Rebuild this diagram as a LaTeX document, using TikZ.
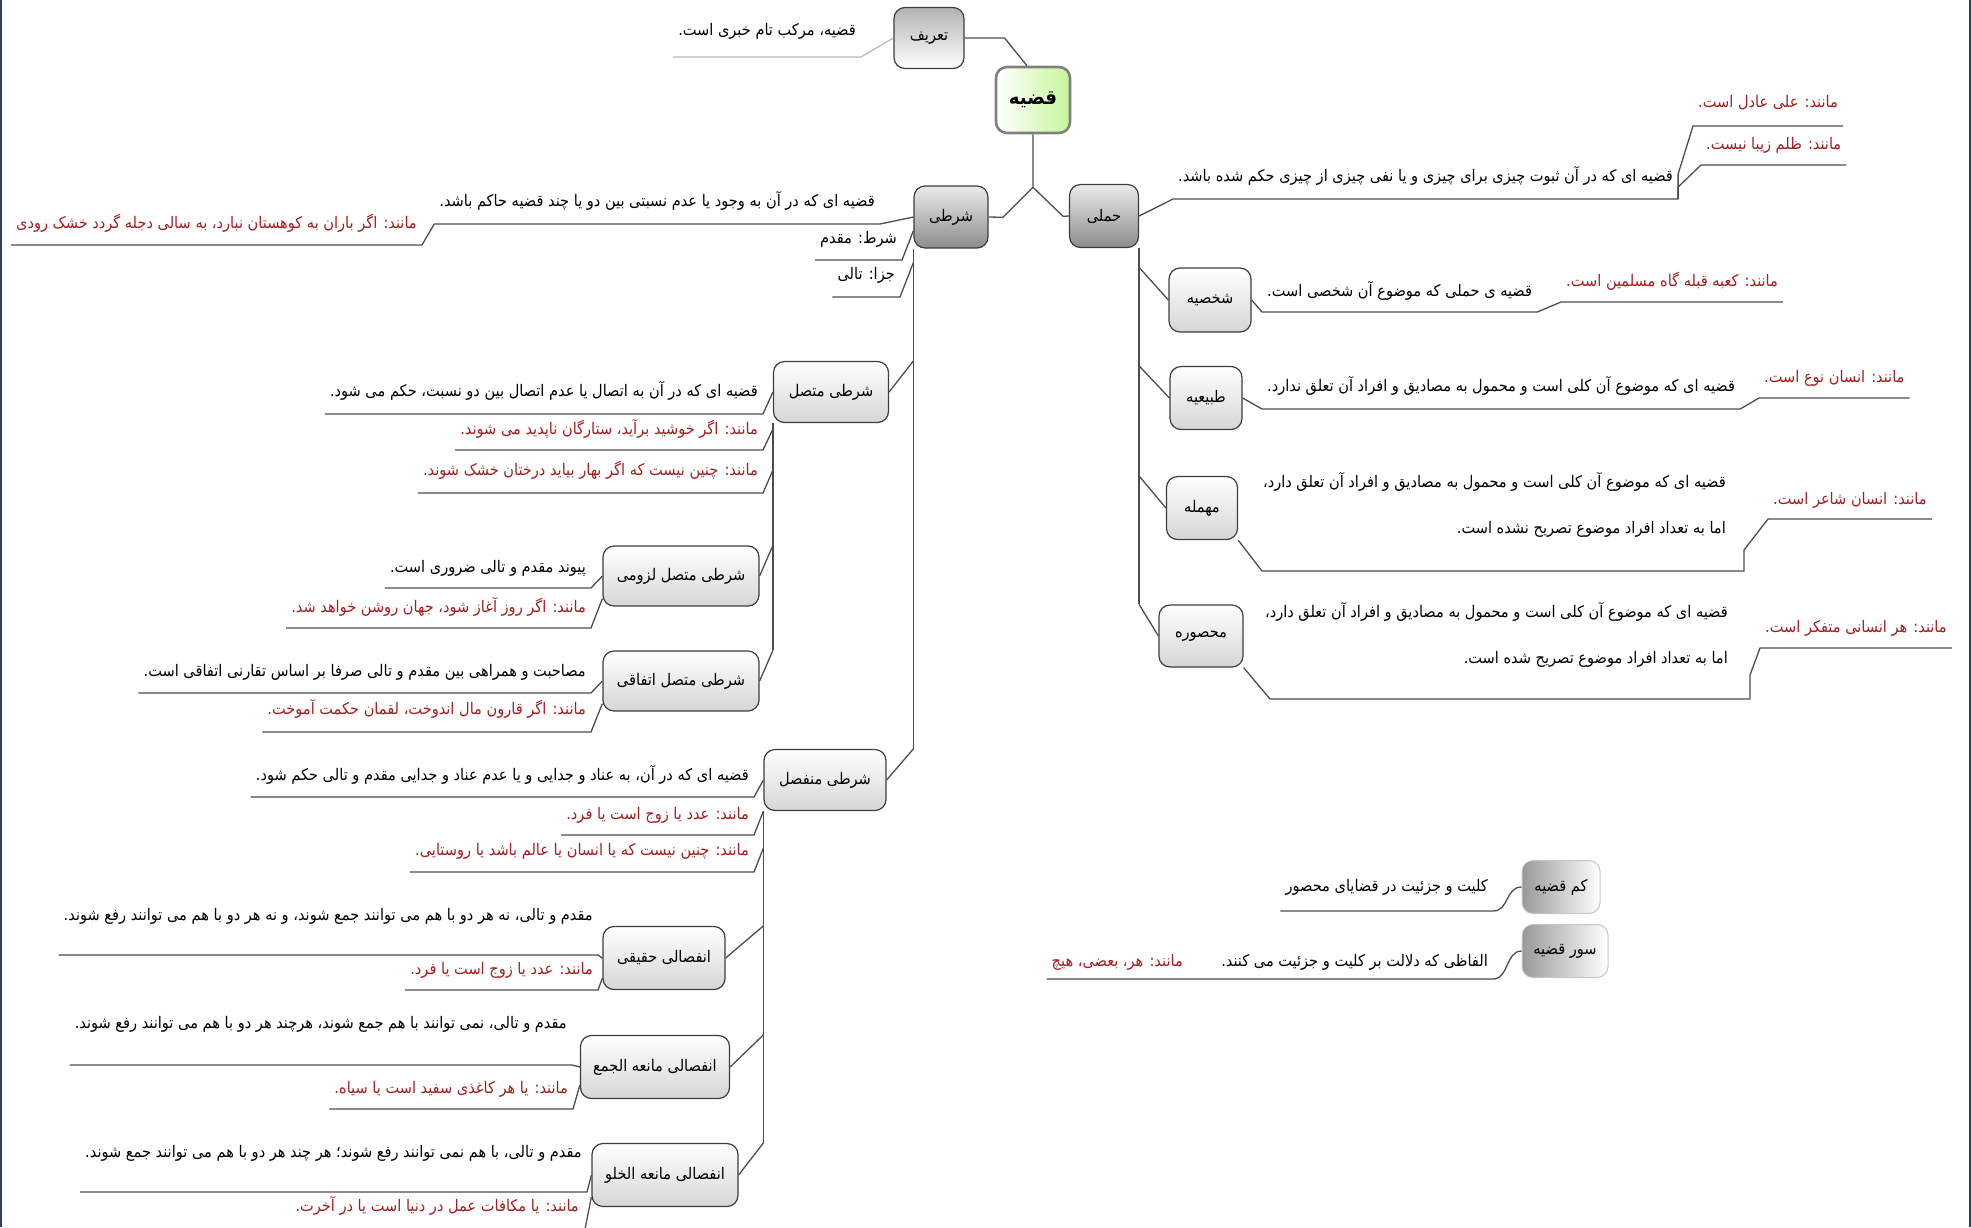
\documentclass[tikz,border=0pt]{standalone}
\usepackage{fontspec}
\usepackage{tikz}
\usetikzlibrary{calc}
\TeXXeTstate=1
\newfontfamily\persianfont[Script=Arabic, FakeStretch=0.91]{DejaVu Sans}
\definecolor{boxline}{HTML}{3D3D3D}
\definecolor{linkgray}{HTML}{4D4D4D}
\definecolor{exred}{HTML}{A31F1F}
\definecolor{rootgreen}{HTML}{C6F59A}
\definecolor{rootline}{HTML}{808080}
\definecolor{framenavy}{HTML}{2B3F5C}
\newcommand{\fatxt}[1]{\beginR#1\endR}

\tikzset{
  topic/.style={draw=boxline, line width=1.2pt, rounded corners=11pt, inner sep=0pt,
    font=\persianfont\fontsize{16}{16}\selectfont},
  roottopic/.style={topic, draw=rootline, line width=2.6pt, left color=white, right color=rootgreen,
    font=\persianfont\bfseries\fontsize{20}{20}\selectfont},
  maintopic/.style={topic, top color=black!8, bottom color=black!45},
  deftopic/.style={topic, top color=black!30, bottom color=white},
  subtopic/.style={topic, top color=white, bottom color=black!16},
  sidetopic/.style={topic, draw=black!22, line width=1pt, left color=black!40, right color=white},
  gloss/.style={font=\persianfont\fontsize{16}{16}\selectfont, inner xsep=5pt, inner ysep=0pt,
    text height=12pt, text depth=#1},
  gloss/.default=16pt,
  sample/.style={gloss=#1, text=exred},
  sample/.default=16pt,
  glossbox/.style={font=\persianfont\fontsize{16}{46}\selectfont, inner sep=0pt, align=right},
  link/.style={draw=linkgray, line width=1.3pt},
}

\begin{document}
\begin{tikzpicture}[x=1pt, y=-1pt]
  \useasboundingbox (0,0) rectangle (1971,1227);
  \clip (0,0) rectangle (1971,1227);

  % Frame edges
  \draw[framenavy, line width=2pt] (1,0) -- (1,1227);
  \draw[framenavy, line width=2pt] (1970,0) -- (1970,1227);

  % Root and its definition
  \node[roottopic, minimum width=74pt, minimum height=66pt] (root) at (1033,100) {\fatxt{قضیه}};
  \node[deftopic, minimum width=70pt, minimum height=61pt] (taarif) at (929,38) {\fatxt{تعریف}};
  \node[gloss=21pt, anchor=south east] (taarifDef) at (861,57) {\fatxt{قضیه، مرکب تام خبری است.}};
  \draw[link] (taarif.east) -- ++(40,0) -- (root.100);
  \draw[link, draw=black!28] (taarif.west) -- (taarifDef.south east) -- (taarifDef.south west);

  % Two main branches
  \node[maintopic, minimum width=74pt, minimum height=62pt] (sharti) at (951,217) {\fatxt{شرطی}};
  \node[maintopic, minimum width=69pt, minimum height=63pt] (hamli) at (1104,216) {\fatxt{حملی}};
  \draw[link] (root.south) -- ++(0,53) coordinate (fork) -- ++(-30,30) -- (sharti.east);
  \draw[link] (fork) -- ++(30,29) -- (hamli.west);

  % Hamli: definition and examples
  \node[gloss=17pt, anchor=south west] (hamliDef) at (1173,199) {\fatxt{قضیه ای که در آن ثبوت چیزی برای چیزی و یا نفی چیزی از چیزی حکم شده باشد.}};
  \draw[link] (hamli.east) -- (hamliDef.south west) -- (hamliDef.south east);
  \node[sample=18pt, anchor=south west] (hamliEx1) at (1693,126) {\fatxt{مانند: علی عادل است.}};
  \node[sample=15pt, anchor=south west] (hamliEx2) at (1701,165) {\fatxt{مانند: ظلم زیبا نیست.}};
  \draw[link] (hamliDef.south east) -- ++(0,-25) -- (hamliEx1.south west) -- (hamliEx1.south east);
  \draw[link] (hamliDef.south east) -- ++(0,-12) -- (hamliEx2.south west) -- (hamliEx2.south east);

  % Hamli: kinds
  \node[subtopic, minimum width=82pt, minimum height=64pt] (shakhsiye) at (1210,300) {\fatxt{شخصیه}};
  \node[subtopic, minimum width=72pt, minimum height=63pt] (tabiiye) at (1206,398) {\fatxt{طبیعیه}};
  \node[subtopic, minimum width=71pt, minimum height=63pt] (mohmale) at (1202,508) {\fatxt{مهمله}};
  \node[subtopic, minimum width=84pt, minimum height=62pt] (mahsure) at (1201,636) {\fatxt{محصوره}};
  \draw[link] (hamli.south east) -- (hamli.south east |- mahsure.north);
  \foreach \n in {shakhsiye,tabiiye,mohmale,mahsure}
    \draw[link] (hamli.south east |- \n.north) -- (\n.west);

  \node[gloss=15pt, anchor=south west] (shakhsiyeDef) at (1262,312) {\fatxt{قضیه ی حملی که موضوع آن شخصی است.}};
  \node[sample=15pt, anchor=south west] (shakhsiyeEx) at (1561,302) {\fatxt{مانند: کعبه قبله گاه مسلمین است.}};
  \draw[link] (shakhsiye.east) -- (shakhsiyeDef.south west) -- (shakhsiyeDef.south east) -- (shakhsiyeEx.south west) -- (shakhsiyeEx.south east);

  \node[gloss=17pt, anchor=south west] (tabiiyeDef) at (1262,409) {\fatxt{قضیه ای که موضوع آن کلی است و محمول به مصادیق و افراد آن تعلق ندارد.}};
  \node[sample=15pt, anchor=south west] (tabiiyeEx) at (1759,398) {\fatxt{مانند: انسان نوع است.}};
  \draw[link] (tabiiye.east) -- (tabiiyeDef.south west) -- (tabiiyeDef.south east) -- (tabiiyeEx.south west) -- (tabiiyeEx.south east);

  \node[glossbox, anchor=north east] (mohmaleDef) at (1726,472) {\fatxt{قضیه ای که موضوع آن کلی است و محمول به مصادیق و افراد آن تعلق دارد،}\\\fatxt{اما به تعداد افراد موضوع تصریح نشده است.}};
  \node[sample=14pt, anchor=south west] (mohmaleEx) at (1768,519) {\fatxt{مانند: انسان شاعر است.}};
  \coordinate (mohmaleLine) at (1262,571);
  \draw[link] (mohmale.south east) -- (mohmaleLine) -- ++(482,0) -- ++(0,-21) -- (mohmaleEx.south west) -- (mohmaleEx.south east);

  \node[glossbox, anchor=north east] (mahsureDef) at (1728,602) {\fatxt{قضیه ای که موضوع آن کلی است و محمول به مصادیق و افراد آن تعلق دارد،}\\\fatxt{اما به تعداد افراد موضوع تصریح شده است.}};
  \node[sample=15pt, anchor=south west] (mahsureEx) at (1760,648) {\fatxt{مانند: هر انسانی متفکر است.}};
  \coordinate (mahsureLine) at (1270,699);
  \draw[link] (mahsure.south east) -- (mahsureLine) -- ++(480,0) -- ++(0,-24) -- (mahsureEx.south west) -- (mahsureEx.south east);

  % Sharti: definition and parts
  \node[gloss=17pt, anchor=south east] (shartiDef) at (880,224) {\fatxt{قضیه ای که در آن به وجود یا عدم نسبتی بین دو یا چند قضیه حاکم باشد.}};
  \node[sample=16pt, anchor=south east] (shartiEx) at (422,245) {\fatxt{مانند: اگر باران به کوهستان نبارد،  به سالی دجله گردد خشک رودی}};
  \draw[link] (sharti.west) -- (shartiDef.south east) -- (shartiDef.south west) -- (shartiEx.south east) -- (shartiEx.south west);
  \node[gloss=16pt, anchor=south east] (muqaddam) at (902,260) {\fatxt{شرط: مقدم}};
  \node[gloss=17pt, anchor=south east] (tali) at (900,297) {\fatxt{جزا: تالی}};
  \draw[link] (sharti.200) -- (muqaddam.south east) -- (muqaddam.south west);
  \draw[link] ([yshift=-14pt]sharti.south west) -- (tali.south east) -- (tali.south west);

  % Sharti: kinds
  \node[subtopic, minimum width=115pt, minimum height=61pt] (muttasil) at (831,392) {\fatxt{شرطی متصل}};
  \node[subtopic, minimum width=122pt, minimum height=61pt] (munfasil) at (825,780) {\fatxt{شرطی منفصل}};
  \draw[link] (sharti.south west) -- (sharti.south west |- munfasil.north);
  \foreach \n in {muttasil,munfasil}
    \draw[link] (sharti.south west |- \n.north) -- (\n.east);

  % Muttasil
  \node[gloss=17pt, anchor=south east] (muttasilDef) at (763,414) {\fatxt{قضیه ای که در آن به اتصال یا عدم اتصال بین دو نسبت، حکم می شود.}};
  \node[sample=15pt, anchor=south east] (muttasilEx1) at (763,450) {\fatxt{مانند: اگر خوشید برآید، ستارگان ناپدید می شوند.}};
  \node[sample=17pt, anchor=south east] (muttasilEx2) at (763,493) {\fatxt{مانند: چنین نیست که اگر بهار بیاید درختان خشک شوند.}};
  \draw[link] (muttasil.west) -- (muttasilDef.south east) -- (muttasilDef.south west);
  \draw[link] ([yshift=-6pt]muttasil.south west) -- (muttasilEx1.south east) -- (muttasilEx1.south west);
  \draw[link] ([yshift=-47pt]muttasil.south west) -- (muttasilEx2.south east) -- (muttasilEx2.south west);

  \node[subtopic, minimum width=156pt, minimum height=60pt] (luzumi) at (681,576) {\fatxt{شرطی متصل لزومی}};
  \node[subtopic, minimum width=156pt, minimum height=60pt] (ittifaqi) at (681,681) {\fatxt{شرطی متصل اتفاقی}};
  \draw[link] (muttasil.south west) -- (muttasil.south west |- ittifaqi.north);
  \foreach \n in {luzumi,ittifaqi}
    \draw[link] (muttasil.south west |- \n.north) -- (\n.east);

  \node[gloss=15pt, anchor=south east] (luzumiDef) at (591,588) {\fatxt{پیوند مقدم و تالی ضروری است.}};
  \node[sample=15pt, anchor=south east] (luzumiEx) at (591,628) {\fatxt{مانند: اگر روز آغاز شود، جهان روشن خواهد شد.}};
  \draw[link] (luzumi.west) -- (luzumiDef.south east) -- (luzumiDef.south west);
  \draw[link] ([yshift=8pt]luzumi.south west) -- (luzumiEx.south east) -- (luzumiEx.south west);

  \node[gloss=16pt, anchor=south east] (ittifaqiDef) at (591,693) {\fatxt{مصاحبت و همراهی بین مقدم و تالی صرفا بر اساس تقارنی اتفاقی است.}};
  \node[sample=17pt, anchor=south east] (ittifaqiEx) at (591,732) {\fatxt{مانند: اگر قارون مال اندوخت، لقمان حکمت آموخت.}};
  \draw[link] (ittifaqi.west) -- (ittifaqiDef.south east) -- (ittifaqiDef.south west);
  \draw[link] ([yshift=8pt]ittifaqi.south west) -- (ittifaqiEx.south east) -- (ittifaqiEx.south west);

  % Munfasil
  \node[gloss=16pt, anchor=south east] (munfasilDef) at (754,797) {\fatxt{قضیه ای که در آن، به عناد و جدایی و یا عدم عناد و جدایی مقدم و تالی حکم شود.}};
  \node[sample=15pt, anchor=south east] (munfasilEx1) at (754,835) {\fatxt{مانند: عدد یا زوج است یا فرد.}};
  \node[sample=16pt, anchor=south east] (munfasilEx2) at (754,872) {\fatxt{مانند: چنین نیست که یا انسان یا عالم باشد یا روستایی.}};
  \draw[link] (munfasil.west) -- (munfasilDef.south east) -- (munfasilDef.south west);
  \draw[link] (munfasil.south west) -- (munfasilEx1.south east) -- (munfasilEx1.south west);
  \draw[link] ([yshift=-37pt]munfasil.south west) -- (munfasilEx2.south east) -- (munfasilEx2.south west);

  \node[subtopic, minimum width=122pt, minimum height=63pt] (haqiqi) at (664,958) {\fatxt{انفصالی حقیقی}};
  \node[subtopic, minimum width=149pt, minimum height=63pt] (jam) at (655,1067) {\fatxt{انفصالی مانعه الجمع}};
  \node[subtopic, minimum width=146pt, minimum height=63pt] (khuluw) at (665,1175) {\fatxt{انفصالی مانعه الخلو}};
  \draw[link] (munfasil.south west) -- (munfasil.south west |- khuluw.north);
  \foreach \n in {haqiqi,jam,khuluw}
    \draw[link] (munfasil.south west |- \n.north) -- (\n.east);

  \node[gloss=34pt, anchor=south east] (haqiqiDef) at (598,955) {\fatxt{مقدم و تالی، نه هر دو با هم می توانند جمع شوند، و نه هر دو با هم می توانند رفع شوند.}};
  \node[sample=15pt, anchor=south east] (haqiqiEx) at (598,990) {\fatxt{مانند: عدد یا زوج است یا فرد.}};
  \draw[link] (haqiqi.west) -- (haqiqiDef.south east) -- (haqiqiDef.south west);
  \draw[link] ([yshift=12pt]haqiqi.south west) -- (haqiqiEx.south east) -- (haqiqiEx.south west);

  \node[gloss=36pt, anchor=south east] (jamDef) at (572,1065) {\fatxt{مقدم و تالی، نمی توانند با هم جمع شوند، هرچند هر دو با هم می توانند رفع شوند.}};
  \node[sample=15pt, anchor=south east] (jamEx) at (573,1109) {\fatxt{مانند: یا هر کاغذی سفید است یا سیاه.}};
  \draw[link] (jam.west) -- (jamDef.south east) -- (jamDef.south west);
  \draw[link] ([yshift=14pt]jam.south west) -- (jamEx.south east) -- (jamEx.south west);

  \node[gloss=34pt, anchor=south east] (khuluwDef) at (587,1192) {\fatxt{مقدم و تالی، با هم نمی توانند رفع شوند؛ هر چند هر دو با هم می توانند جمع شوند.}};
  \node[sample=22pt, anchor=south east] (khuluwEx) at (584,1234) {\fatxt{مانند: یا مکافات عمل در دنیا است یا در آخرت.}};
  \draw[link] (khuluw.west) -- (khuluwDef.south east) -- (khuluwDef.south west);
  \draw[link] ([yshift=10pt]khuluw.south west) -- (khuluwEx.south east) -- (khuluwEx.south west);

  % Quantity and quantifier
  \node[sidetopic, minimum width=78pt, minimum height=53pt] (kamm) at (1561,887) {\fatxt{کم قضیه}};
  \node[sidetopic, minimum width=86pt, minimum height=53pt] (sur) at (1565,951) {\fatxt{سور قضیه}};
  \node[gloss=19pt, anchor=south east] (kammDef) at (1493,911) {\fatxt{کلیت و جزئیت در قضایای محصور}};
  \node[gloss=12pt, anchor=south east] (surDef) at (1493,979) {\fatxt{الفاظی که دلالت بر کلیت و جزئیت می کنند.}};
  \node[sample=12pt, anchor=south east] (surEx) at (1188,979) {\fatxt{مانند: هر، بعضی، هیچ}};
  \draw[link] (kamm.west) .. controls +(-16,0) and +(16,0) .. (kammDef.south east) -- (kammDef.south west);
  \draw[link] (sur.west) .. controls +(-16,0) and +(16,0) .. (surDef.south east) -- (surEx.south west);
\end{tikzpicture}
\end{document}
